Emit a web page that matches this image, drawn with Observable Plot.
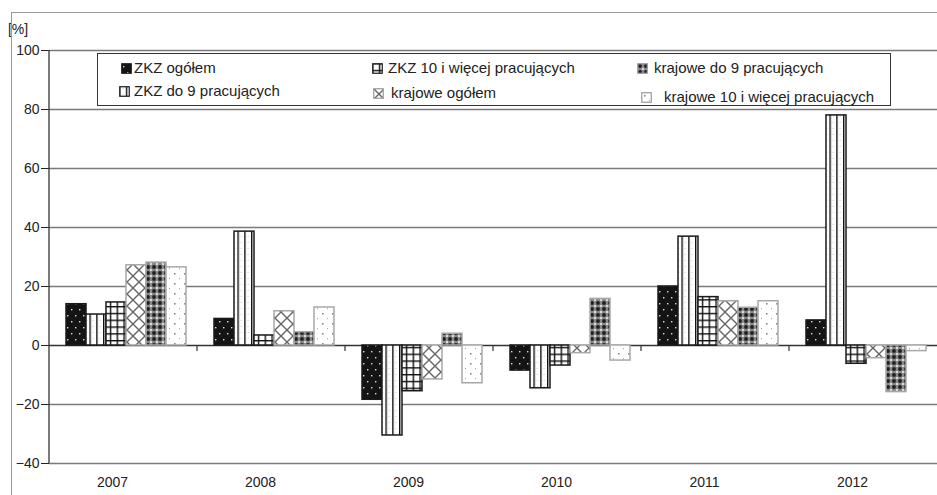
<!DOCTYPE html>
<html><head><meta charset="utf-8">
<script src="https://cdn.jsdelivr.net/npm/d3@7"></script>
<script src="https://cdn.jsdelivr.net/npm/@observablehq/plot@0.6"></script>
<style>
body{margin:0;background:#fff;overflow:hidden;}
#wrap{position:relative;width:937px;height:495px;font-family:"Liberation Sans",Arial,sans-serif;}
#chart svg text{font-size:14px;}
#frame{position:absolute;left:11px;top:12px;width:940px;height:500px;border-top:1.5px solid #9a9a9a;border-left:1.5px solid #9a9a9a;pointer-events:none;}
#legend{position:absolute;left:97px;top:53px;width:792px;height:51px;border:1px solid #333;background:#fff;}
.sw{position:absolute;}
.lt{position:absolute;font-family:"Liberation Sans Narrow","Liberation Sans",Arial,sans-serif;font-size:15px;line-height:18px;color:#222;white-space:nowrap;}
</style>
</head>
<body>
<div id="wrap">
<svg id="defs" width="0" height="0" style="position:absolute"></svg>
<div id="chart"></div>
<div id="legend"></div>
<div id="frame"></div>
</div>
<script>
// ---- data ----
const years = ["2007", "2008", "2009", "2010", "2011", "2012"];
const series = ["ZKZ ogółem", "ZKZ do 9 pracujących", "ZKZ 10 i więcej pracujących",
                "krajowe ogółem", "krajowe do 9 pracujących", "krajowe 10 i więcej pracujących"];
const zkzOgolem  = [14.0, 9.0, -18.4, -8.5, 20.0, 8.5];
const zkzDo9     = [10.5, 38.6, -30.5, -14.5, 36.9, 78.0];
const zkz10      = [14.6, 3.4, -15.5, -6.8, 16.4, -6.2];
const krajOgolem = [27.2, 11.6, -11.5, -2.6, 15.0, -4.3];
const krajDo9    = [28.1, 4.5, 4.0, 15.8, 12.8, -15.8];
const kraj10     = [26.5, 12.9, -12.8, -5.1, 15.0, -1.9];
const yTicks = [-40, -20, 0, 20, 40, 60, 80, 100];
const yUnit = "[%]";

const values = [zkzOgolem, zkzDo9, zkz10, krajOgolem, krajDo9, kraj10];
const data = [];
years.forEach((yr, i) => series.forEach((s, j) => data.push({year: yr, series: s, value: values[j][i]})));

// ---- patterns ----
const defs = d3.select("#defs").append("defs");
function pat(id, w, h, draw) {
  const p = defs.append("pattern").attr("id", id).attr("patternUnits", "userSpaceOnUse")
    .attr("width", w).attr("height", h);
  draw(p);
}
pat("pat0", 8, 12, p => {
  p.append("rect").attr("width", 8).attr("height", 12).attr("fill", "#141414");
  p.append("rect").attr("x", 2).attr("y", 3).attr("width", 1.4).attr("height", 1.4).attr("fill", "#ddd");
  p.append("rect").attr("x", 6).attr("y", 9).attr("width", 1.4).attr("height", 1.4).attr("fill", "#ddd");
});
pat("pat1", 6.8, 6, p => {
  p.append("rect").attr("width", 6.8).attr("height", 6).attr("fill", "#fff");
  p.append("rect").attr("x", 0).attr("width", 1.4).attr("height", 6).attr("fill", "#111");
  p.append("rect").attr("x", 3.6).attr("y", 2).attr("width", 0.8).attr("height", 1).attr("fill", "#bbb");
});
pat("pat2", 6.8, 6.8, p => {
  p.append("rect").attr("width", 6.8).attr("height", 6.8).attr("fill", "#fff");
  p.append("rect").attr("x", 0).attr("width", 1.4).attr("height", 6.8).attr("fill", "#111");
  p.append("rect").attr("y", 0).attr("width", 6.8).attr("height", 1.4).attr("fill", "#111");
});
pat("pat3", 12, 12, p => {
  p.append("rect").attr("width", 12).attr("height", 12).attr("fill", "#fff");
  p.append("path").attr("d", "M0,0L12,12M12,0L0,12").attr("stroke", "#666").attr("stroke-width", 1.4);
});
pat("pat4", 6, 6, p => {
  p.append("rect").attr("width", 6).attr("height", 6).attr("fill", "#8a8a8a");
  p.append("circle").attr("cx", 3).attr("cy", 3).attr("r", 1.9).attr("fill", "#1e1e1e");
  p.append("circle").attr("cx", 0).attr("cy", 0).attr("r", 1.1).attr("fill", "#eee");
  p.append("circle").attr("cx", 6).attr("cy", 0).attr("r", 1.1).attr("fill", "#eee");
  p.append("circle").attr("cx", 0).attr("cy", 6).attr("r", 1.1).attr("fill", "#eee");
  p.append("circle").attr("cx", 6).attr("cy", 6).attr("r", 1.1).attr("fill", "#eee");
});
pat("pat5", 10, 10, p => {
  p.append("rect").attr("width", 10).attr("height", 10).attr("fill", "#fff");
  p.append("rect").attr("x", 3).attr("y", 3).attr("width", 1.6).attr("height", 1.6).attr("fill", "#888");
  p.append("rect").attr("x", 8).attr("y", 8).attr("width", 1).attr("height", 1.2).attr("fill", "#aaa");
});
const patternUrls = series.map((s, i) => `url(#pat${i})`);

// ---- chart ----
const isZKZ = d => d.series.startsWith("ZKZ");
const plot = Plot.plot({
  width: 937, height: 495,
  marginLeft: 48, marginRight: 0, marginTop: 50, marginBottom: 32,
  style: {fontFamily: "Liberation Sans, Arial, sans-serif", fontSize: "14px", color: "#222", background: "transparent", overflow: "visible"},
  facet: {data, x: "year", marginBottom: 32},
  fx: {domain: years, padding: 0, label: null, tickSize: 0, tickPadding: 14, axis: "bottom"},
  x: {domain: series, paddingInner: 0, paddingOuter: 0.56, align: 0.62, axis: null},
  y: {domain: [-40, 100], ticks: yTicks, tickSize: 8, tickPadding: 2, label: null},
  color: {domain: series, range: patternUrls},
  marks: [
    Plot.ruleY(yTicks.filter(v => v !== 0), {stroke: "#7a7a7a", strokeWidth: 1.3}),
    Plot.ruleY([0], {stroke: "#333", strokeWidth: 1.3}),
    Plot.barY(data, {filter: isZKZ, x: "series", y: "value", fill: "series", stroke: "#1a1a1a", strokeWidth: 1.5}),
    Plot.barY(data, {filter: d => !isZKZ(d), x: "series", y: "value", fill: "series", stroke: "#a8a8a8", strokeWidth: 1.5})
  ]
});
document.getElementById("chart").appendChild(plot);

// shift year labels slightly left, as in the original
d3.select(plot).selectAll('[aria-label^="fx-axis"]').each(function() {
  const g = d3.select(this);
  g.attr("transform", `translate(-11,0) ${g.attr("transform") || ""}`);
});

// decorations from the plot's own scales
const ys = plot.scale("y"), fxs = plot.scale("fx");
const svg = d3.select(plot);
const x0 = fxs.apply(years[0]);
svg.append("line").attr("x1", x0).attr("x2", x0).attr("y1", ys.apply(100)).attr("y2", ys.apply(-40))
  .attr("stroke", "#333").attr("stroke-width", 1.3);
years.slice(1).forEach(yr => {
  const xb = fxs.apply(yr);
  svg.append("line").attr("x1", xb).attr("x2", xb).attr("y1", ys.apply(0)).attr("y2", ys.apply(0) + 6)
    .attr("stroke", "#333").attr("stroke-width", 1.2);
});
svg.append("text").attr("x", 18).attr("y", 34).attr("fill", "#222").text(yUnit);

// ---- legend ----
const legendPos = [
  {sx: 121, tx: 134, cy: 68},
  {sx: 119, tx: 134, cy: 91},
  {sx: 372, tx: 388, cy: 68},
  {sx: 373, tx: 391, cy: 93},
  {sx: 637, tx: 654, cy: 68},
  {sx: 641, tx: 664, cy: 97}
];
const lg = d3.select("#legend");
series.forEach((s, i) => {
  const p = legendPos[i];
  const sw = lg.append("svg").attr("class", "sw").attr("width", 11).attr("height", 11)
    .style("left", (p.sx - 98) + "px").style("top", (p.cy - 5 - 54) + "px");
  sw.append("rect").attr("x", 0.75).attr("y", 0.75).attr("width", 9.5).attr("height", 9.5)
    .attr("fill", patternUrls[i]).attr("stroke", i < 3 ? "#1a1a1a" : "#999").attr("stroke-width", 1.2);
  lg.append("div").attr("class", "lt").style("left", (p.tx - 98) + "px").style("top", (p.cy - 9 - 54) + "px").text(s);
});
</script>
</body></html>
